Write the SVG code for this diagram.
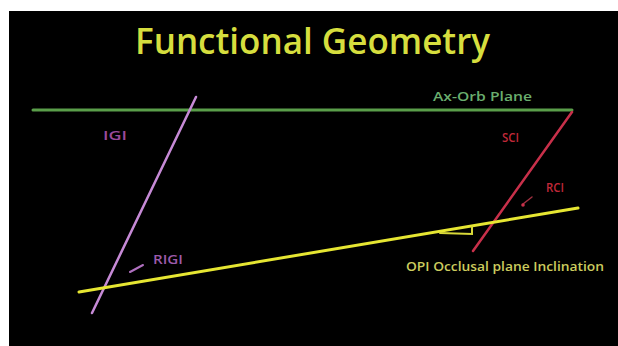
<svg xmlns="http://www.w3.org/2000/svg" width="618" height="346" viewBox="0 0 618 346">
<style>
  text { font-family: "Open Sans", "Liberation Sans", sans-serif; }
  .title { font-size: 36px; font-weight: 600; fill: #d6de3e; }
  .lbl { font-size: 12px; font-weight: 600; }
  .big { font-size: 13px; }
  .ln { fill: none; stroke-linecap: round; }
</style>
<rect x="0" y="0" width="618" height="346" fill="#ffffff"/>
<rect x="9" y="11" width="609" height="335" fill="#000000"/>
<g id="title">
  <text class="title" x="135" y="54" textLength="355" lengthAdjust="spacingAndGlyphs">Functional Geometry</text>
</g>
<g id="connectors">
  <line class="ln" x1="33" y1="110" x2="572" y2="110" stroke="#5a9e4a" stroke-width="3"/>
  <line class="ln" x1="196" y1="97" x2="92" y2="313" stroke="#c68ad6" stroke-width="2.5"/>
  <line class="ln" x1="572" y1="112" x2="473" y2="251" stroke="#c8304a" stroke-width="2.5"/>
  <line class="ln" x1="79" y1="292" x2="578" y2="208" stroke="#e6e632" stroke-width="3"/>
  <polyline class="ln" points="440,233 472,234 472,227" stroke="#d8d838" stroke-width="2"/>
  <line class="ln" x1="143" y1="265" x2="130" y2="272" stroke="#b070c0" stroke-width="2"/>
  <line class="ln" x1="532" y1="197" x2="523" y2="204" stroke="#a03040" stroke-width="1.5"/>
  <circle cx="523" cy="205" r="1.8" fill="#c8304a"/>
</g>
<g id="ax-orb-plane">
  <text class="lbl" x="433" y="101" textLength="99" lengthAdjust="spacingAndGlyphs" fill="#6aae6e">Ax-Orb Plane</text>
</g>
<g id="igi">
  <text class="lbl" x="103" y="140" textLength="24" lengthAdjust="spacingAndGlyphs" fill="#9a4a9a">IGI</text>
</g>
<g id="rigi">
  <text class="lbl" x="153" y="264" textLength="30" lengthAdjust="spacingAndGlyphs" fill="#9c5aaa">RIGI</text>
</g>
<g id="sci">
  <text class="lbl big" x="502" y="142" textLength="17" lengthAdjust="spacingAndGlyphs" fill="#c02838">SCI</text>
</g>
<g id="rci">
  <text class="lbl big" x="546" y="192" textLength="18" lengthAdjust="spacingAndGlyphs" fill="#c02838">RCI</text>
</g>
<g id="opi">
  <text class="lbl" x="406" y="271" textLength="198" lengthAdjust="spacingAndGlyphs" fill="#cccc5e">OPI Occlusal plane Inclination</text>
</g>
</svg>
